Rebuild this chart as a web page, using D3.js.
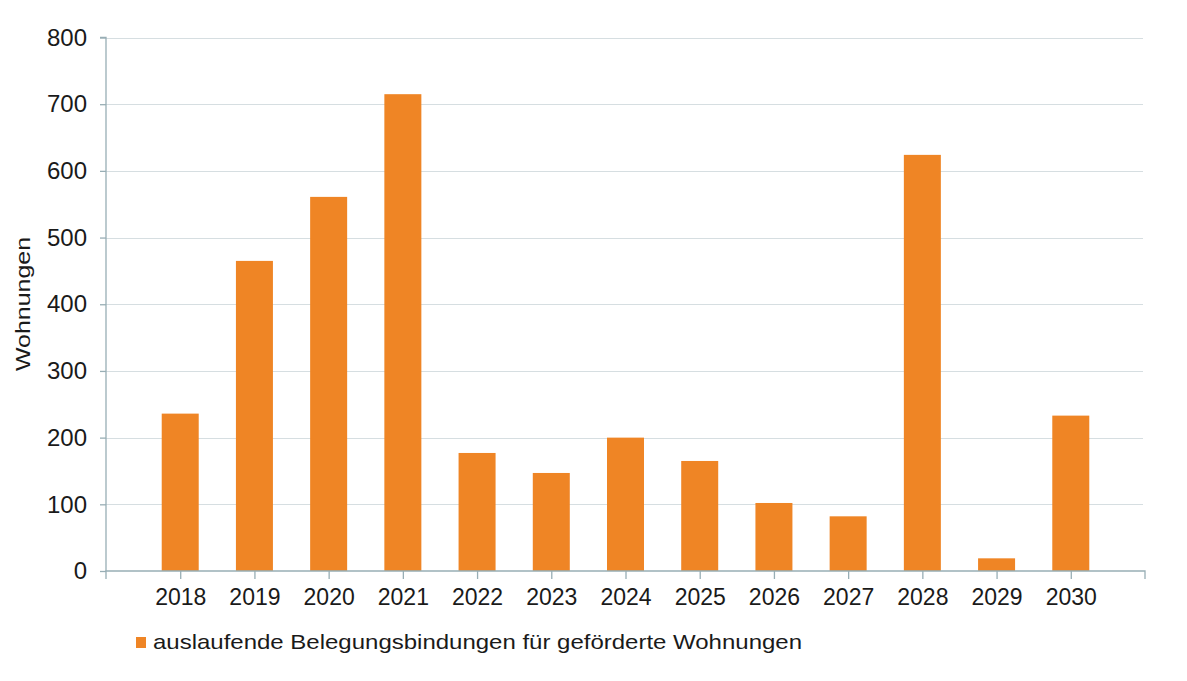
<!DOCTYPE html>
<html>
<head>
<meta charset="utf-8">
<script src="https://cdn.jsdelivr.net/npm/d3@7"></script>
<style>
  html, body { margin: 0; padding: 0; background: #ffffff; }
  svg { display: block; }
  text { font-family: "Liberation Sans", Arial, sans-serif; fill: #1a1a1a; }
</style>
</head>
<body>
<svg id="chart" width="1187" height="681"></svg>
<script>
const years = ["2018","2019","2020","2021","2022","2023","2024","2025","2026","2027","2028","2029","2030"];
const values = [236, 465, 561, 715, 177, 147, 200, 165, 102, 82, 624, 19, 233];
const yTicks = [0, 100, 200, 300, 400, 500, 600, 700, 800];
const yTitle = "Wohnungen";
const legendLabel = "auslaufende Belegungsbindungen für geförderte Wohnungen";

(function () {
const W = 1187, H = 681;
const mLeft = 106, mRight = 1145, mTop = 37.5, mBottom = 571;
const barColor = "#ef8525";
const axisColor = "#98aeb5";
const gridColor = "#d6dee1";

const svg = d3.select("#chart");
svg.append("rect").attr("width", W).attr("height", H).attr("fill", "#fff");

const x = d3.scalePoint().domain(years).range([mLeft, mRight]).padding(1);
const y = d3.scaleLinear().domain([0, 800]).range([mBottom, mTop]);
const barW = 37;

// gridlines
svg.append("g").selectAll("line")
  .data(yTicks.filter(d => d > 0))
  .join("line")
  .attr("x1", mLeft).attr("x2", mRight - 2)
  .attr("y1", d => Math.round(y(d)) + 0.5).attr("y2", d => Math.round(y(d)) + 0.5)
  .attr("stroke", gridColor).attr("stroke-width", 1.2);

// bars
svg.append("g").selectAll("rect")
  .data(years.map((yr, i) => ({ yr, v: values[i] })))
  .join("rect")
  .attr("x", d => x(d.yr) - barW / 2)
  .attr("y", d => y(d.v))
  .attr("width", barW)
  .attr("height", d => y(0) - y(d.v))
  .attr("fill", barColor);

// y axis
const yAxis = d3.axisLeft(y).tickValues(yTicks).tickSize(6).tickPadding(13);
const gy = svg.append("g").attr("transform", `translate(${mLeft},0)`).call(yAxis);
gy.select(".domain").attr("stroke", axisColor).attr("stroke-width", 1.3).attr("d", `M-6,${y(800)}H0V${y(0)}`);
gy.selectAll(".tick line").attr("stroke", axisColor).attr("stroke-width", 1.3);
gy.selectAll(".tick text").style("font-size", "24px").attr("fill", "#1a1a1a")
  .style("font-family", '"Liberation Sans", Arial, sans-serif');

// x axis
const xAxis = d3.axisBottom(x).tickSize(8).tickPadding(10);
const gx = svg.append("g").attr("transform", `translate(0,${mBottom})`).call(xAxis);
gx.select(".domain").attr("stroke", axisColor).attr("stroke-width", 1.3).attr("d", `M${mLeft},8V0H${mRight}V8`);
gx.selectAll(".tick line").attr("stroke", axisColor).attr("stroke-width", 1.3);
gx.selectAll(".tick text").style("font-size", "23px").attr("fill", "#1a1a1a")
  .style("font-family", '"Liberation Sans", Arial, sans-serif');

// y title
svg.append("text")
  .attr("transform", `translate(30,304) rotate(-90)`)
  .attr("text-anchor", "middle")
  .style("font-size", "21px")
  .attr("textLength", 134)
  .attr("lengthAdjust", "spacingAndGlyphs")
  .text(yTitle);

// legend
svg.append("rect").attr("x", 136).attr("y", 637).attr("width", 10).attr("height", 11).attr("fill", barColor);
svg.append("text")
  .attr("x", 153).attr("y", 649)
  .style("font-size", "21px")
  .attr("textLength", 649)
  .attr("lengthAdjust", "spacingAndGlyphs")
  .text(legendLabel);
})();
</script>
</body>
</html>
